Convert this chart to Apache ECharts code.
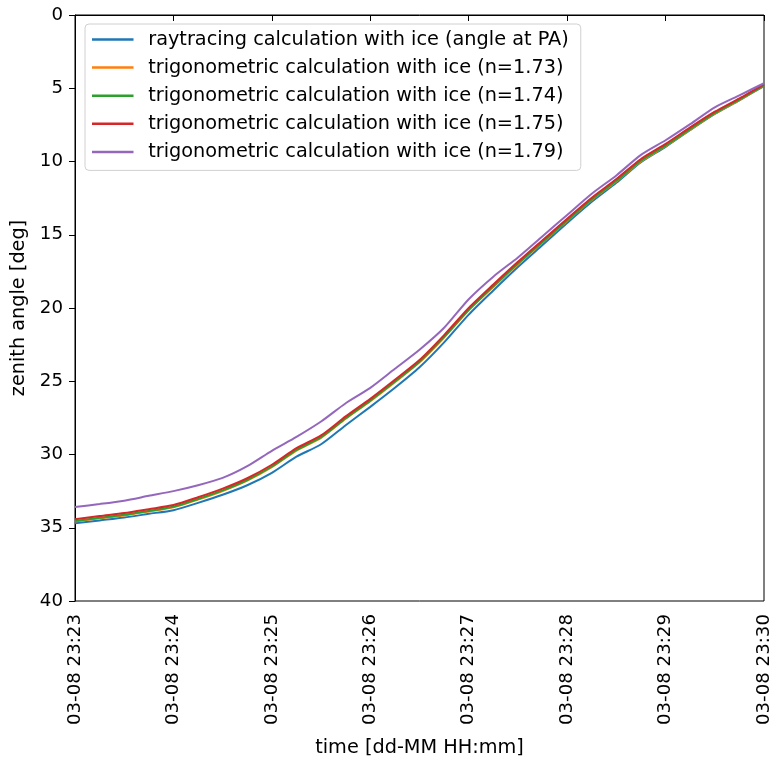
<!DOCTYPE html>
<html>
<head>
<meta charset="utf-8">
<script src="https://cdn.jsdelivr.net/npm/echarts@6/dist/echarts.min.js"></script>
<style>html,body{margin:0;padding:0;background:#fff;}#c{width:771px;height:763px;}</style>
</head>
<body>
<div id="c"></div>
<script>
// time in minutes after 03-08 23:23
var minutes = [0,0.25,0.5,0.75,1,1.25,1.5,1.75,2,2.25,2.5,2.75,3,3.25,3.5,3.75,4,4.25,4.5,4.75,5,5.25,5.5,5.75,6,6.25,6.5,6.75,7];
var tickLabels = ['03-08 23:23','03-08 23:24','03-08 23:25','03-08 23:26','03-08 23:27','03-08 23:28','03-08 23:29','03-08 23:30'];
var seriesNames = [
  'raytracing calculation with ice (angle at PA)',
  'trigonometric calculation with ice (n=1.73)',
  'trigonometric calculation with ice (n=1.74)',
  'trigonometric calculation with ice (n=1.75)',
  'trigonometric calculation with ice (n=1.79)'
];
var raytracing = [34.7,34.5,34.3,34.05,33.8,33.3,32.75,32.1,31.25,30.15,29.3,28.0,26.75,25.45,24.05,22.35,20.45,18.8,17.2,15.7,14.2,12.75,11.45,10.05,9.0,7.85,6.75,5.82,4.85];
var trig173 = [34.58,34.36,34.16,33.89,33.61,33.08,32.49,31.78,30.86,29.73,28.86,27.56,26.36,25.06,23.71,22.01,20.16,18.56,17.01,15.53,14.06,12.63,11.36,9.99,8.96,7.83,6.74,5.81,4.83];
var trig174 = [34.54,34.32,34.12,33.85,33.57,33.04,32.45,31.74,30.82,29.69,28.82,27.52,26.32,25.02,23.67,21.97,20.12,18.52,16.97,15.49,14.02,12.59,11.32,9.95,8.92,7.79,6.7,5.77,4.8];
var trig175 = [34.42,34.2,34.0,33.73,33.45,32.92,32.33,31.62,30.7,29.57,28.7,27.4,26.2,24.9,23.55,21.85,20.0,18.4,16.85,15.37,13.9,12.47,11.2,9.83,8.8,7.67,6.6,5.69,4.73];
var trig179 = [33.58,33.38,33.15,32.82,32.5,32.1,31.6,30.8,29.75,28.8,27.75,26.5,25.45,24.15,22.85,21.35,19.4,17.86,16.55,15.1,13.65,12.2,10.95,9.55,8.55,7.45,6.3,5.48,4.66];
var colors = ['#1f77b4','#ff7f0e','#2ca02c','#d62728','#9467bd'];
var allData = [raytracing, trig173, trig174, trig175, trig179];

function pairs(arr){ return minutes.map(function(m,i){ return [m, arr[i]]; }); }

var font = 'DejaVu Sans';
var fsBig = 19.3;
var fsTick = 18.2;
var chart = echarts.init(document.getElementById('c'), null, {renderer:'canvas'});
chart.setOption({
  animation: false,
  backgroundColor: '#fff',
  color: colors,
  grid: {left: 75, right: 7, top: 15, bottom: 162, outerBoundsMode: 'none', containLabel: false,
         show: true, borderColor: '#000', borderWidth: 1, backgroundColor: 'transparent'},
  legend: {
    orient: 'vertical', left: 85, top: 24,
    backgroundColor: '#fff', borderColor: '#d0d0d0', borderWidth: 1, borderRadius: 4,
    padding: [6, 12, 9, 7],
    icon: 'rect', itemWidth: 41.5, itemHeight: 2.5, itemGap: 9.1,
    textStyle: {fontFamily: font, fontSize: fsBig, color: '#000', padding: [0,0,0,9.7]},
    data: seriesNames
  },
  xAxis: {
    type: 'value', min: 0, max: 7, interval: 1,
    name: 'time [dd-MM HH:mm]', nameLocation: 'middle', nameGap: 137,
    nameTextStyle: {fontFamily: font, fontSize: fsBig, color: '#000'},
    axisLine: {show: true, lineStyle: {color: '#000', width: 1}},
    axisTick: {show: true, length: 6, lineStyle: {color: '#000'}},
    axisLabel: {rotate: 90, fontFamily: font, fontSize: fsTick, color: '#000', margin: 13,
      formatter: function(v){ return tickLabels[Math.round(v)] || ''; }},
    splitLine: {show: false}
  },
  yAxis: {
    type: 'value', inverse: true, min: 0, max: 40, interval: 5,
    name: 'zenith angle [deg]', nameLocation: 'middle', nameGap: 38, nameRotate: 90,
    nameTextStyle: {fontFamily: font, fontSize: fsBig, color: '#000'},
    axisLine: {show: true, lineStyle: {color: '#000', width: 1}},
    axisTick: {show: true, length: 6, lineStyle: {color: '#000'}},
    axisLabel: {fontFamily: font, fontSize: fsTick, color: '#000', margin: 12},
    splitLine: {show: false}
  },
  series: allData.map(function(d, i){
    return {
      name: seriesNames[i], type: 'line', data: pairs(d),
      showSymbol: false, symbol: 'none', smooth: 0.25,
      lineStyle: {width: 2, color: colors[i]}, itemStyle: {color: colors[i]},
      z: 2 + i
    };
  })
});
</script>
</body>
</html>
